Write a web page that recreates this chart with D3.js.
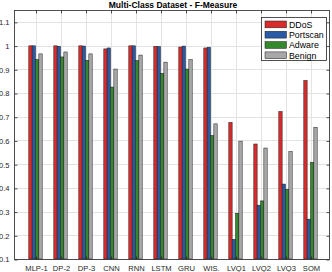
<!DOCTYPE html>
<html>
<head>
<meta charset="utf-8">
<script src="https://cdn.jsdelivr.net/npm/d3@7"></script>
<style>
  body { margin: 0; background: #fff; }
  text { font-family: "Liberation Sans", Arial, sans-serif; }
</style>
</head>
<body>
<div id="chart"></div>
<script>
// categories and series
const models = ["MLP-1", "DP-2", "DP-3", "CNN", "RNN", "LSTM", "GRU", "WIS.", "LVQ1", "LVQ2", "LVQ3", "SOM"];
const seriesNames = ["DDoS", "Portscan", "Adware", "Benign"];
const ddos     = [0.999, 0.999, 0.999, 0.986, 0.999, 0.997, 0.994, 0.990, 0.676, 0.585, 0.722, 0.853];
const portscan = [0.999, 0.997, 0.998, 0.990, 0.999, 0.996, 0.998, 0.993, 0.183, 0.327, 0.416, 0.268];
const adware   = [0.941, 0.952, 0.938, 0.825, 0.937, 0.883, 0.901, 0.621, 0.293, 0.345, 0.394, 0.508];
const benign   = [0.965, 0.973, 0.965, 0.901, 0.960, 0.930, 0.941, 0.670, 0.597, 0.568, 0.553, 0.655];
const yTicks = [0.1, 0.2, 0.3, 0.4, 0.5, 0.6, 0.7, 0.8, 0.9, 1, 1.1];

const series = [ddos, portscan, adware, benign];
const colors = ["#d92b2b", "#2a5aa6", "#34892c", "#a8a8a8"];

const W = 332, H = 272;
const plot = { left: 14, right: 330, top: 10, bottom: 259 };

const svg = d3.select("#chart").append("svg")
    .attr("width", W).attr("height", H);

// scales
const x = d3.scaleLinear()
    .domain([0.14, 12.78])
    .range([plot.left, plot.right]);
const y = d3.scaleLinear()
    .domain([0.1, 1.15])
    .range([plot.bottom, plot.top]);

const gridColor = "#e3e3e3";
const axisColor = "#262626";

// grid lines
svg.append("g").selectAll("line.gy")
    .data(yTicks)
    .join("line")
    .attr("x1", plot.left).attr("x2", plot.right)
    .attr("y1", d => Math.round(y(d)) + 0.5).attr("y2", d => Math.round(y(d)) + 0.5)
    .attr("stroke", gridColor).attr("stroke-width", 1);
svg.append("g").selectAll("line.gx")
    .data(models)
    .join("line")
    .attr("x1", (d, i) => Math.round(x(i + 1)) + 0.5).attr("x2", (d, i) => Math.round(x(i + 1)) + 0.5)
    .attr("y1", plot.top).attr("y2", plot.bottom)
    .attr("stroke", gridColor).attr("stroke-width", 1);

// bars
const groupW = 13.4 / 25; // in x units
const barW = groupW / 4;
series.forEach(function (vals, s) {
    svg.append("g")
        .selectAll("rect")
        .data(vals)
        .join("rect")
        .attr("x", (d, i) => x(i + 1 - groupW / 2 + s * barW))
        .attr("width", x(barW) - x(0))
        .attr("y", d => y(d))
        .attr("height", d => y(0.1) - y(d))
        .attr("fill", colors[s])
        .attr("stroke", "#1a1a1a")
        .attr("stroke-width", 0.5);
});

// box
svg.append("rect")
    .attr("x", plot.left + 0.5).attr("y", plot.top + 0.5)
    .attr("width", plot.right - plot.left - 1).attr("height", plot.bottom - plot.top)
    .attr("fill", "none").attr("stroke", axisColor).attr("stroke-width", 0.8);

// axes (inward ticks)
const yAxisL = d3.axisLeft(y).tickValues(yTicks).tickSize(-3).tickPadding(5)
    .tickFormat(d => d3.format("")(+d.toFixed(1)));
const yAxisR = d3.axisRight(y).tickValues(yTicks).tickSize(-3).tickFormat("");
const xAxisB = d3.axisBottom(x).tickValues(d3.range(1, 13)).tickSize(-3).tickPadding(6)
    .tickFormat(d => models[d - 1]);
const xAxisT = d3.axisTop(x).tickValues(d3.range(1, 13)).tickSize(-3).tickFormat("");

function styleAxis(g) {
    g.select(".domain").remove();
    g.selectAll("line").attr("stroke", axisColor).attr("stroke-width", 0.8);
    g.selectAll("text").attr("fill", "#262626").style("font-size", "7.6px")
        .style("font-family", "'Liberation Sans', Arial, sans-serif");
}
svg.append("g").attr("transform", `translate(${plot.left + 0.5},0.5)`).call(yAxisL).call(styleAxis);
svg.append("g").attr("transform", `translate(${plot.right - 0.5},0.5)`).call(yAxisR).call(styleAxis);
svg.append("g").attr("transform", `translate(0.5,${plot.bottom + 0.5})`).call(xAxisB).call(styleAxis);
svg.append("g").attr("transform", `translate(0.5,${plot.top + 0.5})`).call(xAxisT).call(styleAxis);

// title
svg.append("text")
    .attr("x", (plot.left + plot.right) / 2 + 1)
    .attr("y", 8)
    .attr("text-anchor", "middle")
    .style("font-size", "8.5px")
    .style("font-weight", "bold")
    .attr("fill", "#000")
    .text("Multi-Class Dataset - F-Measure");

// legend
const legend = svg.append("g").attr("transform", "translate(261,17)");
legend.append("rect")
    .attr("x", 0.5).attr("y", 0.5).attr("width", 65).attr("height", 43)
    .attr("fill", "#fff").attr("stroke", axisColor).attr("stroke-width", 0.8);
seriesNames.forEach(function (name, i) {
    const row = legend.append("g").attr("transform", `translate(0,${4 + i * 10.3})`);
    row.append("rect")
        .attr("x", 4).attr("y", 0).attr("width", 21.5).attr("height", 6.8)
        .attr("fill", colors[i]).attr("stroke", "#1a1a1a").attr("stroke-width", 0.5);
    row.append("text")
        .attr("x", 28).attr("y", 6.6)
        .style("font-size", "8.8px")
        .attr("fill", "#000")
        .text(name);
});
</script>
</body>
</html>
